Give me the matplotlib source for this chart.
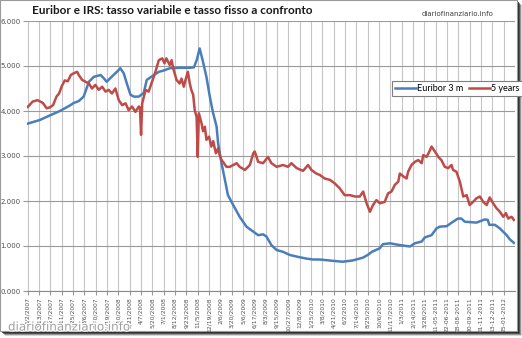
import numpy as np
import matplotlib
matplotlib.use("Agg")
import matplotlib.pyplot as plt
from matplotlib.patches import Rectangle
import matplotlib.patheffects as pe

# Category labels (one every 30 trading days)
tick_labels = [
    "1/2/2007", "2/13/2007", "3/27/2007", "5/11/2007", "6/25/2007", "8/6/2007",
    "9/20/2007", "11/19/2007", "1/10/2008", "2/21/2008", "4/7/2008", "5/20/2008",
    "7/1/2008", "8/12/2008", "9/23/2008", "11/5/2008", "12/19/2008", "2/6/2009",
    "3/20/2009", "5/6/2009", "6/17/2009", "8/3/2009", "9/15/2009", "10/27/2009",
    "12/8/2009", "1/25/2010", "3/8/2010", "4/21/2010", "6/2/2010", "7/14/2010",
    "8/25/2010", "10/6/2010", "11/17/2010", "1/3/2011", "2/14/2011", "3/28/2011",
    "11-05-2011", "22-06-2011", "08-08-2011", "20-09-2011", "01-11-2011",
    "13-12-2011", "25-01-2012",
]
label_step = 30

# Euribor 3 months (observation index, rate %)
euribor_day = [0, 32, 58, 85, 111, 122, 135, 148, 162, 175, 193, 201, 209, 222,
               236, 245, 254, 262, 272, 281, 294, 307, 315, 334, 347, 360, 376,
               402, 429, 440, 448, 455, 463, 473, 482, 490, 500, 504, 513, 522,
               530, 544, 561, 579, 597, 610, 623, 632, 645, 659, 676, 694, 720,
               738, 755, 773, 808, 834, 861, 887, 900, 911, 932, 940, 959, 985,
               1012, 1025, 1043, 1051, 1069, 1082, 1091, 1109, 1126, 1139, 1148,
               1157, 1188, 1210, 1218, 1222, 1237, 1250, 1268, 1276, 1287]
euribor_3m = [3.72, 3.80, 3.90, 4.00, 4.12, 4.18, 4.22, 4.32, 4.65, 4.76, 4.80,
              4.73, 4.65, 4.76, 4.87, 4.95, 4.84, 4.62, 4.36, 4.32, 4.32, 4.40,
              4.69, 4.80, 4.87, 4.90, 4.95, 4.96, 4.96, 4.97, 5.15, 5.39, 5.13,
              4.76, 4.32, 3.98, 3.65, 3.28, 2.84, 2.47, 2.13, 1.91, 1.65, 1.43,
              1.32, 1.24, 1.26, 1.21, 1.02, 0.91, 0.87, 0.80, 0.75, 0.72, 0.70,
              0.70, 0.67, 0.65, 0.68, 0.74, 0.80, 0.87, 0.95, 1.04, 1.06, 1.02,
              0.99, 1.06, 1.10, 1.19, 1.24, 1.39, 1.43, 1.44, 1.54, 1.61, 1.61,
              1.54, 1.52, 1.59, 1.58, 1.47, 1.47, 1.39, 1.24, 1.15, 1.07]

# IRS 5 years (observation index, rate %)
irs_day = [0, 13, 26, 40, 50, 58, 67, 76, 83, 90, 98, 106, 114, 122, 131, 135,
           144, 153, 162, 170, 179, 188, 197, 206, 214, 223, 232, 241, 250, 259,
           267, 276, 285, 294, 297, 300, 303, 312, 320, 329, 338, 347, 356, 362,
           367, 376, 381, 385, 394, 402, 407, 413, 420, 424, 429, 433, 438, 442,
           447, 450, 453, 460, 464, 469, 473, 480, 486, 491, 498, 504, 508, 513,
           517, 526, 535, 544, 553, 561, 575, 588, 597, 601, 610, 623, 636, 645,
           659, 676, 689, 698, 712, 729, 742, 751, 764, 773, 786, 800, 813, 826,
           839, 853, 866, 879, 888, 897, 906, 914, 923, 932, 945, 954, 963, 972,
           981, 985, 994, 1003, 1007, 1016, 1025, 1034, 1043, 1047, 1056, 1065,
           1069, 1078, 1087, 1095, 1104, 1113, 1122, 1126, 1135, 1144, 1153,
           1162, 1170, 1179, 1188, 1197, 1206, 1215, 1223, 1232, 1241, 1250,
           1259, 1266, 1272, 1281, 1287]
irs_5y = [4.09, 4.21, 4.24, 4.18, 4.06, 4.08, 4.13, 4.32, 4.39, 4.55, 4.68, 4.66,
          4.80, 4.84, 4.87, 4.80, 4.69, 4.65, 4.61, 4.50, 4.58, 4.47, 4.54, 4.43,
          4.47, 4.39, 4.50, 4.24, 4.13, 4.17, 4.02, 4.10, 3.98, 4.10, 4.08, 3.47,
          4.17, 4.47, 4.43, 4.65, 4.87, 5.13, 5.17, 5.06, 5.17, 5.02, 5.13, 4.95,
          4.69, 4.61, 4.72, 4.54, 4.76, 4.87, 4.61, 4.47, 4.36, 4.02, 3.87, 2.98,
          3.95, 3.73, 3.55, 3.65, 3.36, 3.43, 3.21, 3.33, 3.06, 3.17, 3.02, 2.91,
          2.87, 2.76, 2.76, 2.80, 2.84, 2.76, 2.69, 2.80, 3.06, 3.10, 2.87, 2.84,
          2.98, 2.84, 2.76, 2.80, 2.76, 2.84, 2.73, 2.67, 2.80, 2.69, 2.61, 2.58,
          2.50, 2.47, 2.39, 2.28, 2.13, 2.13, 2.10, 2.10, 2.21, 1.95, 1.76, 1.91,
          2.02, 1.95, 1.98, 2.17, 2.21, 2.36, 2.43, 2.61, 2.55, 2.50, 2.65, 2.80,
          2.87, 2.91, 2.84, 3.02, 2.98, 3.13, 3.21, 3.10, 2.98, 2.91, 2.76, 2.73,
          2.80, 2.69, 2.65, 2.43, 2.10, 2.13, 1.91, 1.98, 2.06, 2.10, 1.98, 1.91,
          2.08, 1.95, 1.84, 1.76, 1.65, 1.73, 1.61, 1.65, 1.58]

y_ticks = [0, 1, 2, 3, 4, 5, 6]

W, H = 522, 338
fig = plt.figure(figsize=(W / 100, H / 100), dpi=100)
fig.patch.set_facecolor("white")


def fig_rect(x0, y0, x1, y1):
    """Rectangle given in pixels from the top-left corner -> figure fraction."""
    return (x0 / W, 1 - y1 / H), (x1 - x0) / W, (y1 - y0) / H


# drop shadow + chart frame
for off, alpha in [(5, 0.18), (4, 0.35), (3, 0.55), (2, 0.75)]:
    xy, w, h = fig_rect(off, off, 517 + off, 331 + off)
    fig.patches.append(Rectangle(xy, w, h, transform=fig.transFigure,
                                 facecolor="#1e1e1e", alpha=alpha,
                                 edgecolor="none", zorder=-3))
xy, w, h = fig_rect(0, 0, 517, 331)
fig.patches.append(Rectangle(xy, w, h, transform=fig.transFigure,
                             facecolor="white", edgecolor="#9a9a9a",
                             linewidth=0.8, zorder=-2))

ax = fig.add_axes([27 / W, 1 - 291 / H, (515 - 27) / W, (291 - 21) / H])
ax.set_facecolor("white")

blue = "#4a7ebb"
red = "#be4b48"
ax.plot(euribor_day, euribor_3m, color=blue, lw=1.8, label="Euribor 3 m",
        solid_joinstyle="round", zorder=3)
ax.plot(irs_day, irs_5y, color=red, lw=1.8, label="5 years",
        solid_joinstyle="round", zorder=3)

ax.set_xlim(-2, 1290)
ax.set_ylim(0, 6)
xt = np.arange(len(tick_labels)) * label_step
ax.set_xticks(xt)
ax.set_xticklabels(tick_labels, rotation=90, fontsize=4.3, color="#505050",
                   family="DejaVu Sans")
ax.set_yticks(y_ticks)
ax.set_yticklabels([f"{v:.3f}" for v in y_ticks], fontsize=5, color="#505050",
                   family="DejaVu Sans")

ax.grid(axis="x", color="#c6c6c6", lw=0.8)
ax.grid(axis="y", color="#9a9a9a", lw=0.8)
ax.set_axisbelow(True)
for s in ["top", "right", "left"]:
    ax.spines[s].set_visible(False)
ax.spines["bottom"].set_color("#8a8a8a")
ax.spines["bottom"].set_linewidth(0.8)
ax.tick_params(axis="x", length=3, color="#9a9a9a", width=0.8, pad=1.5)
ax.tick_params(axis="y", length=3, color="#9a9a9a", width=0.8, pad=1.5)

leg = ax.legend(loc="upper left", bbox_to_anchor=(392 / W, 1 - 81 / H),
                bbox_transform=fig.transFigure, ncol=2,
                frameon=True, fancybox=False, framealpha=1, borderpad=0.35,
                handlelength=2.3, handletextpad=0.15, columnspacing=0.6,
                borderaxespad=0, prop={"family": "Lato", "size": 6.5})
leg.get_frame().set_edgecolor("#7f7f7f")
leg.get_frame().set_linewidth(0.8)

fig.text(32 / W, 1 - 11 / H, "Euribor e IRS: tasso variabile e tasso fisso a confronto",
         fontsize=8.5, weight="bold", family="Lato", color="#1a1a1a", va="center")
fig.text(493 / W, 1 - 14 / H, "diariofinanziario.info", fontsize=5,
         family="DejaVu Sans", color="#404040", ha="right", va="center")

fig.text(8 / W, 1 - 327 / H, "diariofinanziario.info", fontsize=8.6,
         family="DejaVu Sans", color="#a0a0a0", ha="left", va="center",
         path_effects=[pe.withStroke(linewidth=1.5, foreground="white")],
         zorder=10)

fig.savefig("out.png", dpi=100)
